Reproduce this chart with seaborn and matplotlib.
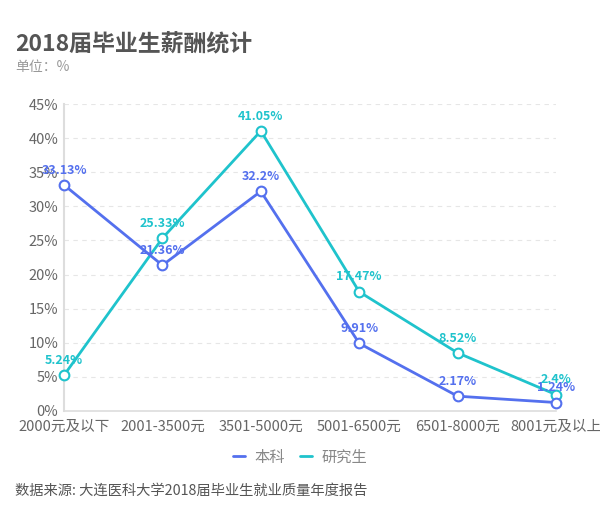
import pandas as pd
import matplotlib
matplotlib.use("Agg")
import matplotlib.pyplot as plt
import seaborn as sns
from matplotlib.lines import Line2D

categories = ["2000元及以下", "2001-3500元", "3501-5000元", "5001-6500元", "6501-8000元", "8001元及以上"]
series_names = ["本科", "研究生"]
undergrad = [33.13, 21.36, 32.2, 9.91, 2.17, 1.24]
graduate = [5.24, 25.33, 41.05, 17.47, 8.52, 2.4]
labels_ug = ["33.13%", "21.36%", "32.2%", "9.91%", "2.17%", "1.24%"]
labels_gr = ["5.24%", "25.33%", "41.05%", "17.47%", "8.52%", "2.4%"]
yticks = [0, 5, 10, 15, 20, 25, 30, 35, 40, 45]

colors = {"本科": "#5470ee", "研究生": "#1fc3cc"}

sns.set_theme(style="white")
plt.rcParams["font.family"] = ["Noto Sans CJK SC", "DejaVu Sans"]

df = pd.DataFrame({
    "x": list(range(len(categories))) * 2,
    "value": undergrad + graduate,
    "series": [series_names[0]] * 6 + [series_names[1]] * 6,
})

fig = plt.figure(figsize=(6, 5.29), dpi=100)
ax = fig.add_axes([0.1067, 0.2231, 0.82, 0.5803])

# draw graduate first so undergrad sits on top like the reference
for name in ["研究生", "本科"]:
    sub = df[df["series"] == name]
    sns.lineplot(data=sub, x="x", y="value", color=colors[name],
                 marker="o", markersize=7, markerfacecolor="white",
                 markeredgecolor=colors[name], markeredgewidth=1.5,
                 linewidth=2, legend=False, ax=ax, clip_on=False, zorder=3)

for vals, labs, name in [(undergrad, labels_ug, "本科"), (graduate, labels_gr, "研究生")]:
    for i, (v, t) in enumerate(zip(vals, labs)):
        ax.annotate(t, (i, v), xytext=(0, 6), textcoords="offset points",
                    ha="center", va="bottom", fontsize=9, fontweight="bold",
                    color=colors[name], zorder=4)

ax.set_xlim(0, len(categories) - 1)
ax.set_ylim(0, 45)
ax.set_yticks(yticks)
ax.set_yticklabels([f"{y}%" for y in yticks])
ax.set_xticks(range(len(categories)))
ax.set_xticklabels(categories)
ax.set_xlabel("")
ax.set_ylabel("")
ax.tick_params(axis="both", labelsize=10.5, colors="#666666")
ax.tick_params(axis="x", length=4, color="#cccccc", pad=2)
ax.tick_params(axis="y", length=0, pad=4)
ax.yaxis.grid(True, linestyle=(0, (4, 4)), color="#e6e6e6", linewidth=0.8)
for s in ["top", "right"]:
    ax.spines[s].set_visible(False)
ax.spines["left"].set_color("#dddddd")
ax.spines["left"].set_linewidth(1.5)
ax.spines["bottom"].set_color("#dddddd")
ax.spines["bottom"].set_linewidth(1.2)

fig.text(0.025, 0.915, "2018届毕业生薪酬统计", fontsize=16.5, fontweight="bold",
         color="#555555", va="center", ha="left")
fig.text(0.025, 0.873, "单位：%", fontsize=10, color="#999999", va="center", ha="left")

handles = [Line2D([], [], color=colors[n], linewidth=2) for n in series_names]
fig.legend(handles, series_names, loc="center", bbox_to_anchor=(0.5, 0.136),
           ncol=2, frameon=False, fontsize=11, handlelength=0.8,
           columnspacing=1.0, handletextpad=0.6, labelcolor="#888888")

fig.text(0.025, 0.072, "数据来源: 大连医科大学2018届毕业生就业质量年度报告",
         fontsize=10.3, color="#555555", va="center", ha="left")

fig.savefig("out.png", dpi=100)
